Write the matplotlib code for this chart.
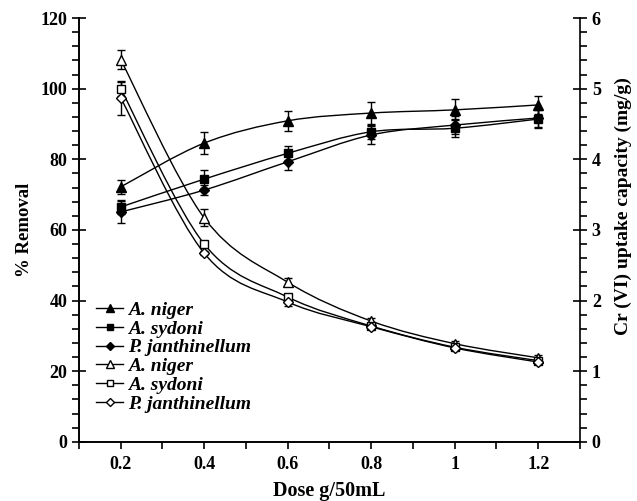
import matplotlib
matplotlib.use('Agg')
import matplotlib.pyplot as plt
from matplotlib.path import Path
from matplotlib.patches import PathPatch
from matplotlib.lines import Line2D
from matplotlib.ticker import MultipleLocator
import numpy as np

plt.rcParams['font.family'] = ['Liberation Serif', 'DejaVu Serif']
plt.rcParams['font.weight'] = 'bold'

dose = [0.2, 0.4, 0.6, 0.8, 1.0, 1.2]
species = ['A. niger', 'A. sydoni', 'P. janthinellum']

# % removal (left axis), filled markers
removal = {
    'A. niger': [72.2, 84.6, 90.9, 93.1, 94.0, 95.4],
    'A. sydoni': [66.5, 74.4, 81.7, 87.8, 88.8, 91.4],
    'P. janthinellum': [65.1, 71.3, 79.3, 86.9, 89.7, 91.7],
}
removal_err = {
    'A. niger': [1.9, 3.2, 2.8, 3.0, 3.0, 2.5],
    'A. sydoni': [2.0, 2.5, 2.0, 2.0, 2.5, 2.5],
    'P. janthinellum': [3.0, 1.5, 2.2, 2.5, 2.5, 2.5],
}

# uptake capacity mg/g (right axis), open markers
uptake = {
    'A. niger': [5.41, 3.17, 2.26, 1.71, 1.39, 1.19],
    'A. sydoni': [5.00, 2.80, 2.05, 1.64, 1.34, 1.15],
    'P. janthinellum': [4.87, 2.67, 1.98, 1.63, 1.33, 1.13],
}
uptake_err = {
    'A. niger': [0.135, 0.12, 0.06, 0.05, 0.04, 0.04],
    'A. sydoni': [0.10, 0.03, 0.03, 0.03, 0.03, 0.03],
    'P. janthinellum': [0.24, 0.03, 0.05, 0.03, 0.03, 0.03],
}

markers = {'A. niger': '^', 'A. sydoni': 's', 'P. janthinellum': 'D'}
msize = {'A. niger': 6.5, 'A. sydoni': 6, 'P. janthinellum': 5}


def smooth_path(ax, x, y):
    # Catmull-Rom curve through the points, drawn as cubic Bezier segments
    pts = np.column_stack([x, y]).astype(float)
    ext = np.vstack([pts[0], pts, pts[-1]])
    verts = [pts[0]]
    codes = [Path.MOVETO]
    for i in range(1, len(ext) - 2):
        p0, p1, p2, p3 = ext[i - 1], ext[i], ext[i + 1], ext[i + 2]
        verts += [p1 + (p2 - p0) / 6, p2 - (p3 - p1) / 6, p2]
        codes += [Path.CURVE4] * 3
    ax.add_patch(PathPatch(Path(verts, codes), fill=False, lw=1.0, color='black'))


fig = plt.figure(figsize=(6.37, 5.01), dpi=100)
ax = fig.add_axes([0.124, 0.118, 0.7865, 0.846])
ax2 = ax.twinx()

handles = []
for sp in species:
    smooth_path(ax, dose, removal[sp])
    ax.errorbar(dose, removal[sp], yerr=removal_err[sp], fmt=markers[sp], color='black',
                mfc='black', ms=msize[sp], elinewidth=1, capsize=3, capthick=1)
    handles.append(Line2D([], [], color='black', lw=1, marker=markers[sp],
                          mfc='black', ms=msize[sp] - 1))
for sp in species:
    smooth_path(ax2, dose, uptake[sp])
    ax2.errorbar(dose, uptake[sp], yerr=uptake_err[sp], fmt=markers[sp], color='black',
                 mfc='white', ms=msize[sp], elinewidth=1, capsize=3, capthick=1)
    handles.append(Line2D([], [], color='black', lw=1, marker=markers[sp],
                          mfc='white', ms=msize[sp] - 1))

ax.set_xlim(0.1, 1.3)
ax.set_ylim(0, 120)
ax2.set_ylim(0, 6)

ax.xaxis.set_minor_locator(MultipleLocator(0.1))
ax.set_xticks(dose)
ax.set_xticklabels(['0.2', '0.4', '0.6', '0.8', '1', '1.2'])
ax.yaxis.set_major_locator(MultipleLocator(20))
ax.yaxis.set_minor_locator(MultipleLocator(4))
ax2.yaxis.set_major_locator(MultipleLocator(1))
ax2.yaxis.set_minor_locator(MultipleLocator(0.2))

for a in (ax, ax2):
    a.spines['top'].set_visible(False)
    for s in a.spines.values():
        s.set_linewidth(1.2)
ax.spines['right'].set_visible(False)

ax.tick_params(axis='x', which='major', direction='out', length=5, width=1.2, labelsize=13, pad=5)
ax.tick_params(axis='x', which='minor', direction='out', length=5, width=1.2)
ax.tick_params(axis='y', which='major', direction='inout', length=10, width=1.2, labelsize=13)
ax.tick_params(axis='y', which='minor', direction='out', length=5, width=1.2)
ax2.tick_params(axis='y', which='major', direction='inout', length=10, width=1.2, labelsize=13)
ax2.tick_params(axis='y', which='minor', direction='out', length=5, width=1.2)

ax.set_xlabel('Dose g/50mL', fontsize=14.5, fontweight='bold', labelpad=6)
ax.set_ylabel('% Removal', fontsize=13.5, fontweight='bold', labelpad=5)
ax2.set_ylabel('Cr (VI) uptake capacity (mg/g)', fontsize=14, fontweight='bold')
ax2.yaxis.set_label_coords(1.07, 0.557)

leg_labels = species + species
ax2.legend(handles, leg_labels, loc='lower left', bbox_to_anchor=(0.0, 0.028),
           frameon=False, handlelength=1.35, handletextpad=0.25, labelspacing=0.055,
           prop={'family': 'Liberation Serif', 'style': 'italic', 'weight': 'bold', 'size': 14})

fig.savefig('out.png', dpi=100)
